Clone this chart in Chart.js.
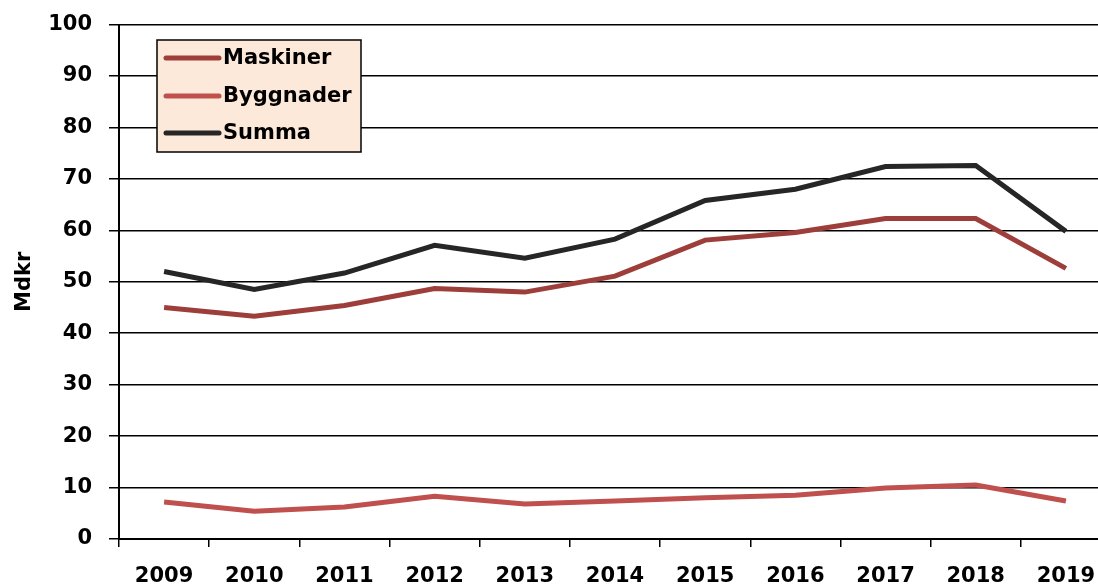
<!DOCTYPE html>
<html>
<head>
<meta charset="utf-8">
<script src="https://cdn.jsdelivr.net/npm/chart.js@4.4.1/dist/chart.umd.min.js"></script>
<style>
  html, body { margin: 0; padding: 0; background: #fff; overflow: hidden; width: 1098px; height: 587px; }
  #wrap { position: absolute; left: 0; top: -5px; width: 1115px; height: 592px; }
</style>
</head>
<body>
<div id="wrap"><canvas id="chart" width="1115" height="592"></canvas></div>
<script>
var years = ['2009', '2010', '2011', '2012', '2013', '2014', '2015', '2016', '2017', '2018', '2019'];
var maskiner = [45.0, 43.3, 45.4, 48.7, 48.0, 51.1, 58.1, 59.6, 62.3, 62.3, 52.6];
var byggnader = [7.2, 5.4, 6.2, 8.3, 6.8, 7.4, 8.0, 8.5, 9.9, 10.5, 7.4];
var summa = [52.0, 48.5, 51.7, 57.1, 54.6, 58.3, 65.8, 68.0, 72.4, 72.6, 59.8];

var font = "'DejaVu Sans', sans-serif";

// legend drawn by hand, a box like in the original chart (canvas is shifted up 5px)
var boxLegend = {
    id: 'boxLegend',
    afterDraw: function (chart) {
        var c = chart.ctx;
        var dy = 5;
        c.save();
        c.fillStyle = '#fde9d9';
        c.fillRect(157, 40 + dy, 204, 112);
        c.strokeStyle = '#000';
        c.lineWidth = 1.5;
        c.strokeRect(157, 40 + dy, 204, 112);
        var rows = [58, 96, 133];
        chart.data.datasets.forEach(function (ds, i) {
            c.strokeStyle = ds.borderColor;
            c.lineWidth = 5;
            c.lineCap = 'round';
            c.beginPath();
            c.moveTo(166, rows[i] + dy);
            c.lineTo(219, rows[i] + dy);
            c.stroke();
            c.fillStyle = '#000';
            c.font = 'bold 21px ' + font;
            c.textBaseline = 'middle';
            c.fillText(ds.label, 223, rows[i] + dy + 1);
        });
        c.restore();
    }
};

var ctx = document.getElementById('chart');
var lineChart = new Chart(ctx, {
    type: 'line',
    data: {
        labels: years,
        datasets: [{
            label: 'Maskiner',
            data: maskiner,
            borderColor: '#9e3e3a',
            borderWidth: 5,
            pointRadius: 0,
            tension: 0
        }, {
            label: 'Byggnader',
            data: byggnader,
            borderColor: '#c0504d',
            borderWidth: 5,
            pointRadius: 0,
            tension: 0
        }, {
            label: 'Summa',
            data: summa,
            borderColor: '#262626',
            borderWidth: 5,
            pointRadius: 0,
            tension: 0
        }]
    },
    options: {
        responsive: false,
        animation: false,
        layout: { padding: { top: 9, left: 0, right: 4, bottom: 0 } },
        plugins: {
            legend: { display: false },
            tooltip: { enabled: false }
        },
        scales: {
            x: {
                offset: true,
                grid: {
                    offset: true,
                    drawOnChartArea: false,
                    drawTicks: true,
                    tickLength: 8,
                    color: '#000',
                    lineWidth: 1.5
                },
                border: { color: '#000', width: 2 },
                ticks: {
                    color: '#000',
                    font: { family: font, size: 21, weight: 'bold' },
                    padding: 17,
                    maxRotation: 0,
                    autoSkip: false
                },
                afterFit: function (scale) { scale.height = 48; }
            },
            y: {
                min: 0,
                max: 100,
                ticks: {
                    stepSize: 10,
                    color: '#000',
                    font: { family: font, size: 21, weight: 'bold' },
                    padding: 17
                },
                grid: {
                    color: '#000',
                    lineWidth: 1.5,
                    drawTicks: true,
                    tickLength: 10
                },
                border: { color: '#000', width: 2 },
                title: {
                    display: true,
                    text: 'Mdkr',
                    color: '#000',
                    font: { family: font, size: 21, weight: 'bold' },
                    padding: { top: 12, bottom: 0 }
                },
                afterFit: function (scale) { scale.width = 119; }
            }
        }
    },
    plugins: [boxLegend]
});
</script>
</body>
</html>
